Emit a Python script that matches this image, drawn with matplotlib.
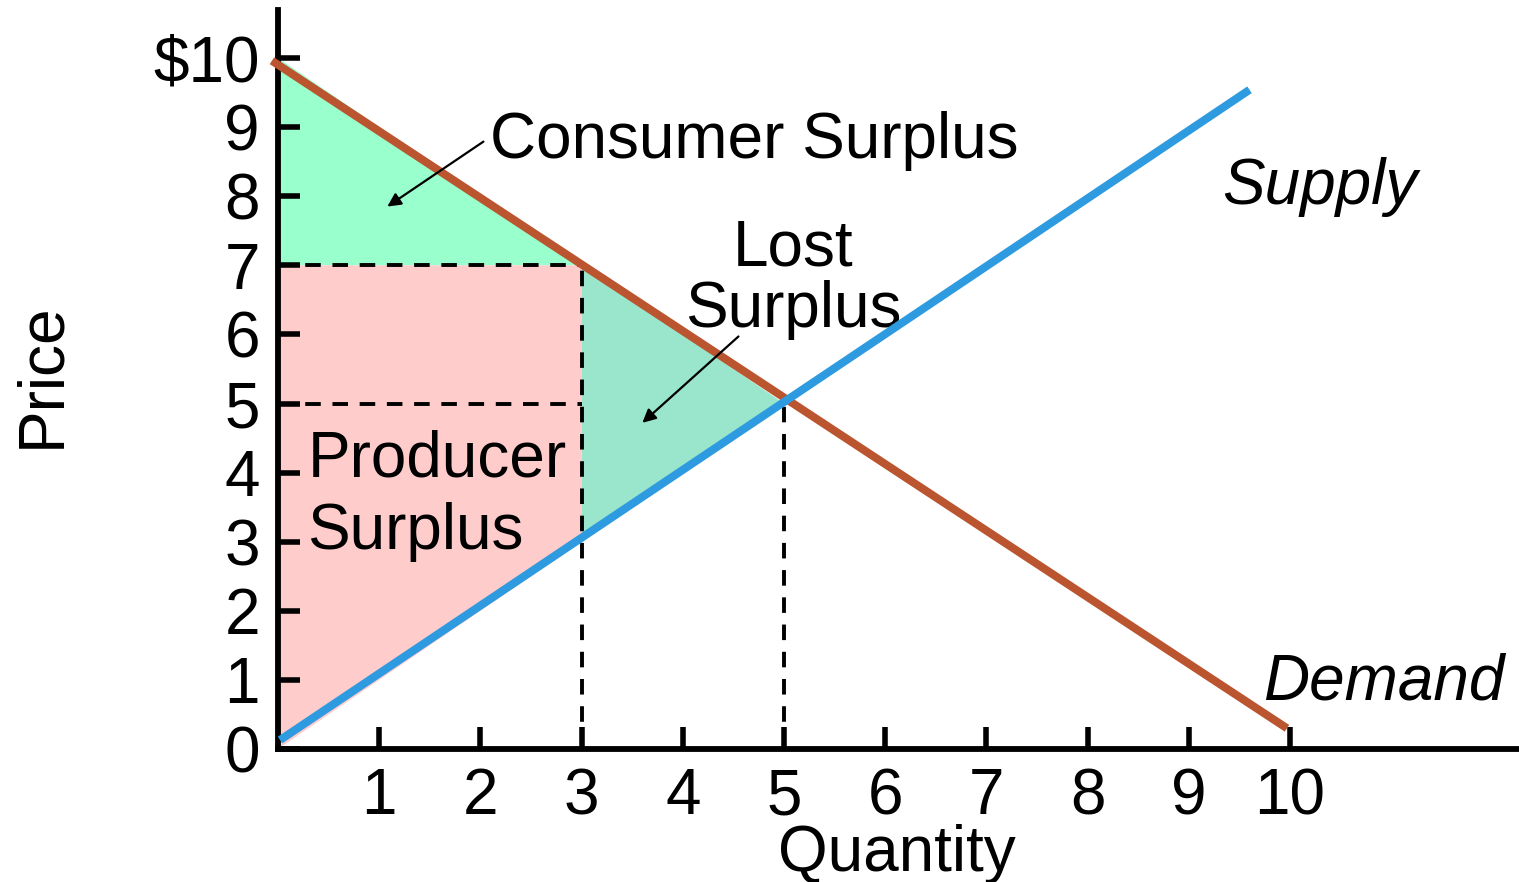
import matplotlib
matplotlib.use('Agg')
import matplotlib.pyplot as plt

plt.rcParams['font.family'] = ['Liberation Sans', 'DejaVu Sans']

# Curves (quantity, price)
demand_q = [-0.06, 9.97]
demand_p = [9.96, 0.30]
supply_q = [0.02, 9.6]
supply_p = [0.13, 9.54]

# Surplus regions
consumer_q = [0, 3, 0]
consumer_p = [10, 7, 7]
producer_q = [0, 3, 3, 0]
producer_p = [7, 7, 3, 0]
lost_q = [3, 5, 3]
lost_p = [7, 5, 3]

# Guide lines: price 7 and 5 up to q=3, quantity 3 and 5 up to the curves
hlines_p = [7, 5]
hlines_q = [3, 3]
vlines_q = [3, 5]
vlines_p = [7, 5]

xticks = [1, 2, 3, 4, 5, 6, 7, 8, 9, 10]
yticks = [0, 1, 2, 3, 4, 5, 6, 7, 8, 9, 10]
ytick_labels = ['0', '1', '2', '3', '4', '5', '6', '7', '8', '9', '$10']

fs = 46
px_x = 101.2   # pixels per quantity unit
px_y = 69.1    # pixels per price unit

fig = plt.figure(figsize=(15.19, 8.82), dpi=100)
ax = fig.add_axes([278 / 1519, 133 / 882, 1 - 278 / 1519, 739 / 882])
ax.set_xlim(0, 1241 / px_x)
ax.set_ylim(0, 739 / px_y)

ax.fill(consumer_q, consumer_p, color='#99ffcc', lw=0, zorder=1)
ax.fill(producer_q, producer_p, color='#ffcccc', lw=0, zorder=1)
ax.fill(lost_q, lost_p, color='#99e6cc', lw=0, zorder=1)

dash = (0, (4, 3))
for p, q in zip(hlines_p, hlines_q):
    ax.plot([0, q], [p, p], color='black', lw=2.8, linestyle=dash, zorder=2)
for q, p in zip(vlines_q, vlines_p):
    ax.plot([q, q], [0, p], color='black', lw=2.8, linestyle=dash, zorder=2)

ax.plot(demand_q, demand_p, color='#bb5530', lw=5.8, solid_capstyle='butt',
        zorder=3, clip_on=False)
ax.plot(supply_q, supply_p, color='#2e9ae0', lw=5.8, solid_capstyle='butt',
        zorder=4, clip_on=False)

# Labels
arrow = dict(arrowstyle='-|>', color='black', lw=1.6, mutation_scale=20,
             shrinkA=0, shrinkB=0)
ax.text(2.09, 8.55, 'Consumer Surplus', fontsize=fs, va='baseline', ha='left')
ax.annotate('', xy=(1.08, 7.85), xytext=(2.03, 8.79), arrowprops=arrow)
ax.text(5.09, 6.99, 'Lost', fontsize=fs, va='baseline', ha='center')
ax.text(5.09, 6.10, 'Surplus', fontsize=fs, va='baseline', ha='center')
ax.annotate('', xy=(3.6, 4.72), xytext=(4.55, 5.97), arrowprops=arrow)
ax.text(0.29, 3.94, 'Producer', fontsize=fs, va='baseline', ha='left')
ax.text(0.29, 2.89, 'Surplus', fontsize=fs, va='baseline', ha='left')
ax.text(9.33, 7.89, 'Supply', fontsize=fs, va='baseline', ha='left',
        style='italic')
ax.text(9.73, 0.71, 'Demand', fontsize=fs, va='baseline', ha='left',
        style='italic')

# Axes
for s in ['top', 'right']:
    ax.spines[s].set_visible(False)
for s in ['left', 'bottom']:
    ax.spines[s].set_linewidth(4.2)
ax.set_xticks(xticks)
ax.set_xticklabels([str(t) for t in xticks])
ax.set_yticks(yticks)
ax.set_yticklabels(ytick_labels)
ax.tick_params(direction='in', length=16, width=4.0, labelsize=fs, pad=13)

fig.text(42 / 1519, 1 - 375 / 882, 'Price', fontsize=fs, rotation=90,
         ha='center', va='center')
fig.text(897 / 1519, 1 - 854 / 882, 'Quantity', fontsize=fs,
         ha='center', va='center')

fig.savefig('out.png', dpi=100)
